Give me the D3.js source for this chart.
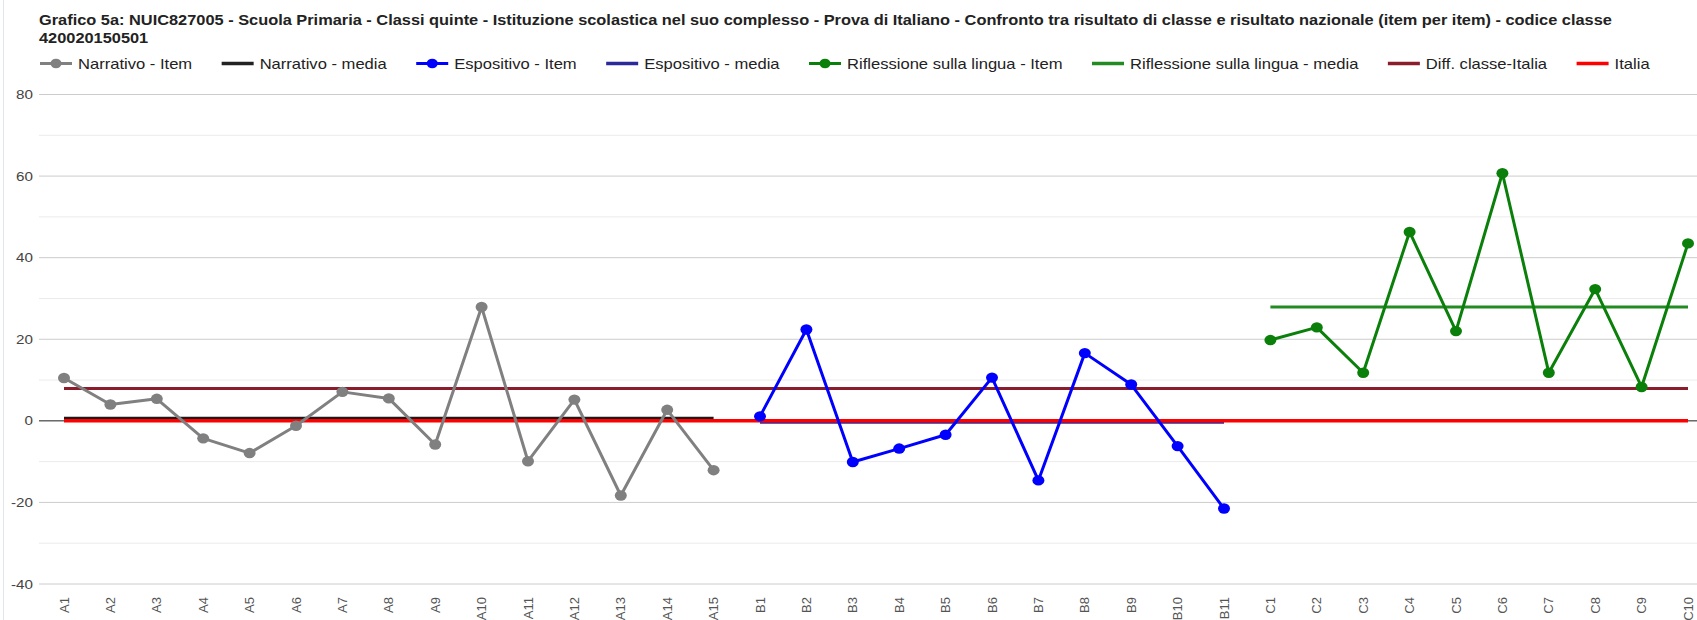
<!DOCTYPE html>
<html>
<head>
<meta charset="utf-8">
<script src="https://cdn.jsdelivr.net/npm/d3@7"></script>
<style>
  html, body { margin: 0; padding: 0; background: #fff; }
  svg { display: block; }
  text { font-family: "Liberation Sans", Arial, sans-serif; }
</style>
</head>
<body>
<div id="chart"></div>
<script>
// Item labels on the x axis
const categories = [
  "A1","A2","A3","A4","A5","A6","A7","A8","A9","A10","A11","A12","A13","A14","A15",
  "B1","B2","B3","B4","B5","B6","B7","B8","B9","B10","B11",
  "C1","C2","C3","C4","C5","C6","C7","C8","C9","C10"
];
const narrativoCats = categories.slice(0, 15);
const espositivoCats = categories.slice(15, 26);
const riflessioneCats = categories.slice(26);

// Class-vs-national difference per item
const narrativoItem = [10.5, 4.0, 5.4, -4.3, -7.9, -1.2, 7.1, 5.5, -5.8, 27.9, -9.9, 5.2, -18.3, 2.7, -12.1];
const espositivoItem = [1.1, 22.4, -10.1, -6.8, -3.4, 10.6, -14.6, 16.6, 8.9, -6.2, -21.5];
const riflessioneItem = [19.8, 22.9, 11.8, 46.3, 22.0, 60.7, 11.8, 32.3, 8.3, 43.5];

// Section averages and reference levels
const narrativoMedia = 0.6;
const espositivoMedia = -0.3;
const riflessioneMedia = 27.9;
const diffClasseItalia = 7.9;
const italia = 0;

const yTicks = [-40, -20, 0, 20, 40, 60, 80];
const yMinorTicks = [-30, -10, 10, 30, 50, 70];

const titleLines = [
  "Grafico 5a: NUIC827005 - Scuola Primaria - Classi quinte - Istituzione scolastica nel suo complesso - Prova di Italiano - Confronto tra risultato di classe e risultato nazionale (item per item) - codice classe",
  "420020150501"
];

const legendItems = [
  { label: "Narrativo - Item", color: "#808080", dot: true },
  { label: "Narrativo - media", color: "#222222", dot: false },
  { label: "Espositivo - Item", color: "#0000ff", dot: true },
  { label: "Espositivo - media", color: "#2a2a9a", dot: false },
  { label: "Riflessione sulla lingua - Item", color: "#0a800a", dot: true },
  { label: "Riflessione sulla lingua - media", color: "#228b22", dot: false },
  { label: "Diff. classe-Italia", color: "#8b1c2c", dot: false },
  { label: "Italia", color: "#ff0000", dot: false }
];

const W = 1697, H = 620;
const SX = 1.17;        // horizontal glyph stretch
const SX_LEGEND = 1.185;

const svg = d3.select("#chart").append("svg")
  .attr("width", W).attr("height", H);

svg.append("rect").attr("width", W).attr("height", H).attr("fill", "#fff");
svg.append("line").attr("x1", 3.5).attr("x2", 3.5).attr("y1", 0).attr("y2", H)
  .attr("stroke", "#dfe6ec").attr("stroke-width", 1);

const plotLeft = 39;
const x = d3.scalePoint().domain(categories).range([64, 1688]);
const y = d3.scaleLinear().domain([-40, 80]).range([584, 94.5]);

function stretched(sel, tx, ty, sx) {
  sel.attr("transform", `translate(${tx},${ty}) scale(${sx || SX},1)`);
}

// Title
titleLines.forEach((t, i) => {
  svg.append("text").text(t)
    .attr("font-size", 14).attr("font-weight", "bold").attr("fill", "#222")
    .call(stretched, 39, 24.5 + i * 18.5);
});

// Legend
let lx = 40;
const ly = 63.5;
legendItems.forEach(d => {
  const g = svg.append("g");
  g.append("line").attr("x1", lx).attr("x2", lx + 32).attr("y1", ly).attr("y2", ly)
    .attr("stroke", d.color).attr("stroke-width", d.dot ? 3 : 3.5);
  if (d.dot) {
    g.append("ellipse").attr("cx", lx + 16).attr("cy", ly).attr("rx", 5.5).attr("ry", 4.8)
      .attr("fill", d.color);
  }
  const t = g.append("text").text(d.label)
    .attr("font-size", 14).attr("fill", "#222")
    .call(stretched, lx + 38, ly + 5, SX_LEGEND);
  const w = t.node().getComputedTextLength() * SX_LEGEND;
  lx = lx + 38 + w + 29.5;
});

// Gridlines
svg.append("g").selectAll("line.minor").data(yMinorTicks).join("line")
  .attr("x1", plotLeft).attr("x2", W)
  .attr("y1", d => y(d)).attr("y2", d => y(d))
  .attr("stroke", "#ebebeb").attr("stroke-width", 1);
svg.append("g").selectAll("line.major").data(yTicks).join("line")
  .attr("x1", plotLeft).attr("x2", W)
  .attr("y1", d => y(d)).attr("y2", d => y(d))
  .attr("stroke", "#cccccc").attr("stroke-width", 1);

// Baseline at zero
svg.append("line").attr("x1", plotLeft).attr("x2", W)
  .attr("y1", y(0)).attr("y2", y(0))
  .attr("stroke", "#333").attr("stroke-width", 1);

// Y axis labels
svg.append("g").selectAll("text").data(yTicks).join("text")
  .text(d => d)
  .attr("font-size", 13).attr("fill", "#444").attr("text-anchor", "end")
  .each(function (d) { d3.select(this).call(stretched, 33, y(d) + 4.5); });

// X axis labels (rotated)
svg.append("g").selectAll("text").data(categories).join("text")
  .text(d => d)
  .attr("font-size", 13).attr("fill", "#555").attr("text-anchor", "end")
  .attr("dy", "0.35em")
  .each(function (d) { d3.select(this).attr("transform", `translate(${x(d)},597) rotate(-90)`); });

// Horizontal reference lines
function hline(cats, value, color, width) {
  svg.append("line")
    .attr("x1", x(cats[0])).attr("x2", x(cats[cats.length - 1]))
    .attr("y1", y(value)).attr("y2", y(value))
    .attr("stroke", color).attr("stroke-width", width);
}
hline(narrativoCats, narrativoMedia, "#1a1a1a", 3.5);
hline(espositivoCats, espositivoMedia, "#2a2a9a", 3.5);
hline(riflessioneCats, riflessioneMedia, "#228b22", 3);
hline(categories, diffClasseItalia, "#8b1c2c", 3);
hline(categories, italia, "#ff0000", 3.5);

// Item series
const line = d3.line().x(d => x(d.c)).y(d => y(d.v));
function series(cats, values, color) {
  const data = cats.map((c, i) => ({ c, v: values[i] }));
  svg.append("path").datum(data).attr("d", line)
    .attr("fill", "none").attr("stroke", color).attr("stroke-width", 3)
    .attr("stroke-linejoin", "round");
  svg.append("g").selectAll("ellipse").data(data).join("ellipse")
    .attr("cx", d => x(d.c)).attr("cy", d => y(d.v))
    .attr("rx", 6).attr("ry", 5.2).attr("fill", color);
}
series(narrativoCats, narrativoItem, "#808080");
series(espositivoCats, espositivoItem, "#0000ff");
series(riflessioneCats, riflessioneItem, "#0a800a");
</script>
</body>
</html>
